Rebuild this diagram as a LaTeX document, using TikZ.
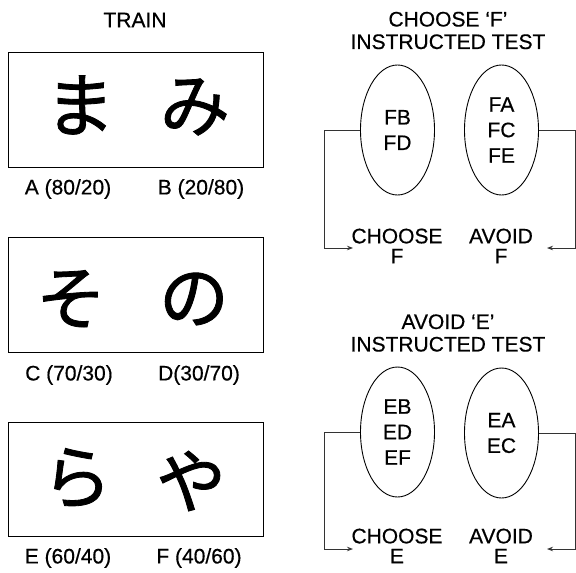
\documentclass[tikz,border=0pt]{standalone}
\usepackage{fontspec}
\setmainfont{Liberation Sans}[FakeBold=0.5]
\newfontfamily\cjk{Noto Sans CJK JP}[FakeBold=1.2]
\usetikzlibrary{shapes.geometric,arrows.meta}
\begin{document}
\begin{tikzpicture}[x=1pt,y=-1pt,
  lbl/.style={font=\fontsize{21}{22}\selectfont, inner sep=0pt, align=center},
  twoline/.style={font=\fontsize{21}{20}\selectfont, inner sep=0pt, align=center},
  head/.style={font=\fontsize{21}{22.5}\selectfont, inner sep=0pt, align=center},
  trainbox/.style={draw=black, line width=0.9pt, minimum width=255pt, inner sep=0pt},
  kana/.style={font=\cjk\fontsize{70}{70}\selectfont, inner sep=0pt},
  setoval/.style={draw=black, line width=0.9pt, ellipse, minimum width=74pt, minimum height=130pt, inner sep=0pt, align=center, font=\fontsize{21}{25.5}\selectfont},
  conn/.style={draw=black!80, line width=0.9pt, -{Stealth[length=6pt,width=4.5pt]}}
]
\useasboundingbox (0,0) rectangle (576,573);

% left column
\node[lbl] (train) at (135,20) {TRAIN};
\node[trainbox, minimum height=115pt] (box1) at (135.5,109.5) {};
\node[trainbox, minimum height=115pt] (box2) at (135.5,294.5) {};
\node[trainbox, minimum height=114pt] (box3) at (135.5,479) {};

\node[kana] (ma) at (80,105) {ま};
\node[kana] (mi) at (195,107) {み};
\node[kana] (so) at (71,299) {そ};
\node[kana] (no) at (194,299) {の};
\node[kana] (ra) at (77,478) {ら};
\node[kana] (ya) at (191,481) {や};

\node[lbl] (la) at (68,189) {A (80/20)};
\node[lbl] (lb) at (201,189) {B (20/80)};
\node[lbl] (lc) at (69,375) {C (70/30)};
\node[lbl] (ld) at (199,375) {D(30/70)};
\node[lbl] (le) at (68,558) {E (60/40)};
\node[lbl] (lf) at (199,558) {F (40/60)};

% right top
\node[head] (h1) at (448,30.5) {CHOOSE ‘F’\\INSTRUCTED TEST};
\node[setoval] (e1) at (397.5,130) {FB\\FD};
\node[setoval] (e2) at (501.5,130) {FA\\FC\\FE};
\node[twoline] (c1) at (397,246) {CHOOSE\\F};
\node[twoline] (a1) at (501,246) {AVOID\\F};
\coordinate (c1end) at (353,248);
\coordinate (a1end) at (547,248);
\draw[conn] (e1.west) -| (324,248) -- (c1end);
\draw[conn] (e2.east) -| (575,248) -- (a1end);

% right bottom
\node[head] (h2) at (448,333) {AVOID ‘E’\\INSTRUCTED TEST};
\node[setoval] (e3) at (397.5,432) {EB\\ED\\EF};
\node[setoval] (e4) at (501.5,433) {EA\\EC};
\node[twoline] (c2) at (397,546) {CHOOSE\\E};
\node[twoline] (a2) at (501,546) {AVOID\\E};
\coordinate (c2end) at (353,549);
\coordinate (a2end) at (547,549);
\draw[conn] (e3.west) -| (324,549) -- (c2end);
\draw[conn] (e4.east) -| (575,549) -- (a2end);
\end{tikzpicture}
\end{document}
